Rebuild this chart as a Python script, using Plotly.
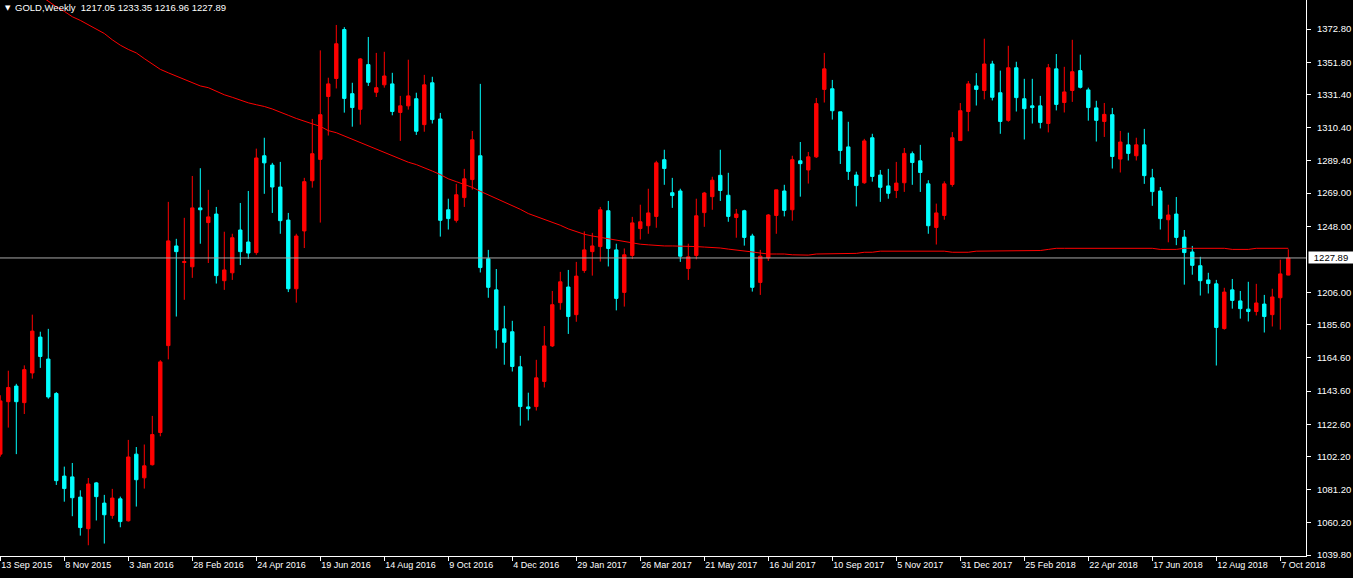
import pandas as pd
import plotly.graph_objects as go

# ---- data ----
first_week = "2015-09-13"
n_bars = 162

opens = [1103.7, 1136.9, 1146.8, 1136.3, 1155.1, 1177.8, 1163.9, 1142.1, 1089.8, 1089.3,
         1076.5, 1056.5, 1085.5, 1072.7, 1064.9, 1075.4, 1061.5, 1103.7, 1088.7, 1097.0,
         1117.4, 1172.4, 1235.5, 1225.0, 1222.3, 1259.6, 1250.3, 1255.7, 1213.5, 1218.5,
         1245.6, 1238.0, 1231.3, 1292.6, 1286.7, 1272.8, 1251.9, 1208.4, 1245.0, 1276.8,
         1290.3, 1330.1, 1341.5, 1372.5, 1331.9, 1322.0, 1350.3, 1332.8, 1337.5, 1338.1,
         1320.0, 1324.2, 1328.7, 1312.3, 1338.8, 1315.9, 1258.4, 1251.7, 1266.1, 1277.5,
         1292.6, 1227.4, 1207.7, 1183.0, 1181.2, 1159.0, 1133.6, 1133.8, 1149.7, 1172.2,
         1199.6, 1209.5, 1192.0, 1220.0, 1231.9, 1235.1, 1257.8, 1233.0, 1206.1, 1229.5,
         1246.5, 1248.3, 1254.2, 1290.1, 1269.2, 1270.3, 1221.2, 1229.5, 1256.6, 1266.7,
         1280.2, 1267.6, 1253.5, 1257.8, 1241.8, 1212.4, 1227.9, 1254.8, 1270.3, 1258.4,
         1289.4, 1283.6, 1291.9, 1334.6, 1335.0, 1320.4, 1298.2, 1280.4, 1275.5, 1304.0,
         1280.4, 1273.5, 1270.6, 1275.5, 1293.9, 1289.4, 1274.8, 1247.2, 1254.8, 1274.4,
         1302.2, 1320.6, 1336.8, 1333.9, 1350.7, 1332.5, 1315.0, 1348.3, 1328.7, 1324.2,
         1324.2, 1313.0, 1347.6, 1326.3, 1333.9, 1346.5, 1334.3, 1322.9, 1314.3, 1318.6,
         1290.5, 1299.5, 1292.6, 1299.5, 1278.6, 1270.3, 1252.1, 1255.7, 1241.1, 1231.7,
         1223.0, 1214.0, 1211.5, 1183.2, 1207.7, 1200.7, 1195.5, 1194.0, 1198.7, 1192.0,
         1202.7, 1217.05]

highs = [1141.0, 1156.5, 1148.2, 1159.9, 1192.0, 1181.2, 1183.0, 1143.0, 1095.8, 1098.1,
         1080.8, 1088.6, 1086.1, 1077.9, 1081.7, 1076.8, 1112.7, 1108.2, 1109.8, 1127.9,
         1163.2, 1263.4, 1240.0, 1253.3, 1279.8, 1284.7, 1271.0, 1260.2, 1244.5, 1243.2,
         1262.7, 1270.3, 1297.1, 1304.0, 1288.1, 1288.7, 1256.4, 1243.2, 1278.6, 1315.9,
         1359.3, 1342.0, 1375.4, 1374.0, 1338.8, 1354.5, 1367.8, 1357.7, 1358.4, 1345.1,
         1330.5, 1353.4, 1332.5, 1343.8, 1342.6, 1319.7, 1265.4, 1274.8, 1284.3, 1308.3,
         1338.1, 1233.0, 1220.9, 1197.6, 1188.1, 1165.9, 1142.6, 1163.4, 1184.8, 1207.0,
         1219.1, 1220.3, 1225.4, 1244.7, 1243.8, 1260.2, 1264.0, 1236.9, 1233.9, 1253.9,
         1261.6, 1271.7, 1289.4, 1296.4, 1278.6, 1271.7, 1236.9, 1265.4, 1269.7, 1279.3,
         1296.4, 1281.8, 1258.9, 1258.4, 1243.2, 1233.0, 1255.7, 1271.0, 1274.2, 1292.6,
         1301.3, 1295.0, 1329.2, 1357.7, 1340.6, 1320.4, 1314.1, 1282.5, 1303.3, 1306.5,
         1283.6, 1284.3, 1288.7, 1297.5, 1295.3, 1299.5, 1277.1, 1262.3, 1276.4, 1307.6,
         1326.0, 1339.9, 1344.9, 1366.7, 1352.7, 1346.5, 1362.2, 1352.1, 1341.3, 1341.3,
         1330.5, 1350.7, 1357.0, 1348.9, 1366.0, 1356.6, 1335.7, 1327.4, 1326.0, 1322.9,
         1308.3, 1307.2, 1304.0, 1309.6, 1284.3, 1272.8, 1261.6, 1266.5, 1245.6, 1235.5,
         1228.6, 1218.5, 1214.0, 1209.0, 1214.6, 1207.0, 1212.8, 1211.5, 1204.5, 1208.4,
         1226.8, 1233.35]

lows = [1102.1, 1120.5, 1103.7, 1129.1, 1151.5, 1158.3, 1138.8, 1084.2, 1073.6, 1064.4,
        1052.1, 1046.0, 1061.7, 1047.1, 1062.8, 1057.4, 1061.0, 1070.5, 1081.9, 1096.5,
        1115.0, 1163.7, 1190.8, 1201.4, 1215.3, 1236.9, 1224.7, 1211.7, 1207.7, 1214.0,
        1223.4, 1227.4, 1229.9, 1268.5, 1256.4, 1243.2, 1206.3, 1199.6, 1234.2, 1272.4,
        1250.3, 1305.4, 1335.2, 1319.9, 1311.0, 1312.3, 1336.8, 1329.8, 1335.7, 1318.2,
        1302.0, 1321.8, 1305.8, 1307.8, 1313.0, 1241.4, 1245.9, 1250.3, 1260.2, 1271.2,
        1218.7, 1202.7, 1170.6, 1160.3, 1156.0, 1121.7, 1125.0, 1131.3, 1145.9, 1171.5,
        1195.1, 1179.8, 1187.5, 1218.5, 1216.7, 1225.6, 1222.5, 1194.7, 1197.1, 1227.2,
        1239.6, 1243.2, 1247.0, 1274.2, 1259.6, 1225.4, 1214.0, 1227.0, 1247.6, 1258.4,
        1264.0, 1250.8, 1240.7, 1235.7, 1206.6, 1204.5, 1226.0, 1243.2, 1254.2, 1251.5,
        1266.7, 1275.0, 1291.2, 1326.3, 1315.5, 1287.4, 1277.3, 1260.5, 1274.8, 1276.2,
        1263.4, 1265.4, 1265.8, 1269.7, 1274.2, 1269.7, 1243.2, 1236.4, 1252.1, 1273.0,
        1302.2, 1308.1, 1324.4, 1328.3, 1327.6, 1306.5, 1314.1, 1320.6, 1302.9, 1313.0,
        1309.9, 1307.4, 1321.3, 1320.0, 1326.7, 1335.2, 1314.8, 1301.6, 1304.5, 1284.5,
        1282.0, 1289.6, 1289.6, 1274.8, 1260.9, 1245.9, 1237.8, 1236.0, 1211.0, 1217.3,
        1204.1, 1205.4, 1159.8, 1182.5, 1195.8, 1189.5, 1187.7, 1191.5, 1180.7, 1184.5,
        1182.5, 1216.96]

closes = [1137.4, 1145.9, 1136.9, 1157.2, 1181.6, 1165.5, 1139.9, 1086.9, 1081.9, 1076.1,
          1057.2, 1084.8, 1076.8, 1065.3, 1075.9, 1061.0, 1101.9, 1087.5, 1096.3, 1116.1,
          1162.1, 1238.7, 1231.9, 1225.6, 1259.6, 1258.4, 1253.9, 1216.7, 1220.3, 1240.7,
          1231.9, 1231.0, 1291.2, 1288.1, 1272.8, 1251.5, 1208.4, 1241.8, 1276.2, 1293.9,
          1318.6, 1338.1, 1363.5, 1328.9, 1323.1, 1353.9, 1339.1, 1335.7, 1343.1, 1320.6,
          1324.2, 1330.5, 1308.1, 1337.5, 1315.5, 1251.7, 1252.8, 1267.9, 1278.0, 1302.7,
          1221.8, 1209.3, 1182.3, 1174.5, 1159.2, 1133.8, 1132.5, 1152.0, 1172.2, 1198.3,
          1212.8, 1190.8, 1216.4, 1233.0, 1235.5, 1258.4, 1233.9, 1202.3, 1229.9, 1250.1,
          1250.8, 1256.4, 1288.1, 1284.5, 1267.4, 1229.0, 1228.6, 1254.6, 1269.0, 1277.1,
          1270.6, 1254.2, 1255.7, 1240.9, 1209.3, 1229.0, 1255.1, 1271.0, 1258.0, 1290.1,
          1287.6, 1291.9, 1325.6, 1347.6, 1321.1, 1295.9, 1282.7, 1273.7, 1302.0, 1279.5,
          1272.6, 1268.8, 1275.3, 1294.1, 1288.3, 1282.0, 1248.3, 1256.4, 1274.8, 1304.0,
          1321.1, 1338.1, 1334.6, 1350.7, 1329.6, 1314.3, 1348.3, 1329.4, 1322.4, 1323.1,
          1313.7, 1348.3, 1325.1, 1333.0, 1345.8, 1335.9, 1323.1, 1315.0, 1318.8, 1292.1,
          1301.3, 1294.1, 1299.5, 1280.0, 1269.9, 1252.8, 1255.1, 1240.9, 1231.3, 1223.2,
          1213.5, 1211.7, 1183.9, 1206.3, 1201.0, 1195.8, 1194.0, 1199.4, 1190.8, 1203.2,
          1217.8, 1227.89]

# red moving-average line (None where it lies above the visible area)
ma_values = [None, None, None, None, None, 1394.0, 1390.5, 1386.9, 1384.0, 1380.6,
             1378.3, 1375.4, 1372.7, 1370.0, 1366.0, 1362.6, 1359.9, 1357.7, 1354.1, 1350.7,
             1347.3, 1345.1, 1343.1, 1340.8, 1338.6, 1336.8, 1335.7, 1333.4, 1331.2, 1329.6,
             1327.8, 1326.1, 1324.9, 1323.8, 1322.2, 1320.0, 1318.2, 1316.2, 1314.3, 1312.8,
             1311.2, 1308.5, 1307.2, 1305.1, 1302.7, 1300.9, 1298.6, 1296.4, 1294.6, 1292.6,
             1290.5, 1288.5, 1287.0, 1284.7, 1282.9, 1280.7, 1278.0, 1276.2, 1274.6, 1272.6,
             1270.1, 1267.9, 1265.6, 1263.4, 1261.1, 1258.7, 1256.0, 1254.2, 1252.1, 1250.3,
             1248.6, 1246.3, 1244.7, 1242.9, 1241.8, 1240.9, 1240.0, 1238.9, 1238.0, 1237.3,
             1236.6, 1236.2, 1235.7, 1235.5, 1235.5, 1235.5, 1235.3, 1235.1, 1234.8, 1234.6,
             1234.2, 1233.5, 1233.0, 1232.4, 1231.7, 1231.0, 1230.4, 1230.4, 1230.4, 1229.9,
             1229.7, 1229.7, 1230.4, 1230.4, 1230.4, 1230.4, 1230.8, 1230.8, 1231.5, 1231.5,
             1232.2, 1232.2, 1232.2, 1232.2, 1232.6, 1232.6, 1232.2, 1232.2, 1232.2, 1231.5,
             1231.5, 1231.5, 1232.2, 1232.2, 1232.2, 1232.2, 1232.2, 1232.6, 1232.6, 1232.6,
             1232.6, 1233.3, 1234.0, 1234.0, 1234.0, 1234.0, 1234.0, 1234.0, 1234.0, 1234.0,
             1234.0, 1234.0, 1234.0, 1234.0, 1234.0, 1233.3, 1233.3, 1233.3, 1234.0, 1234.0,
             1234.0, 1234.0, 1234.0, 1234.0, 1233.3, 1233.3, 1233.3, 1234.0, 1234.0, 1234.0,
             1234.0, 1234.0]

date_labels = ["13 Sep 2015", "8 Nov 2015", "3 Jan 2016", "28 Feb 2016", "24 Apr 2016",
               "19 Jun 2016", "14 Aug 2016", "9 Oct 2016", "4 Dec 2016", "29 Jan 2017",
               "26 Mar 2017", "21 May 2017", "16 Jul 2017", "10 Sep 2017", "5 Nov 2017",
               "31 Dec 2017", "25 Feb 2018", "22 Apr 2018", "17 Jun 2018", "12 Aug 2018",
               "7 Oct 2018"]

price_ticks = [1372.80, 1351.80, 1331.40, 1310.40, 1289.40, 1269.00, 1248.00, 1206.00,
               1185.60, 1164.60, 1143.60, 1122.60, 1102.20, 1081.20, 1060.20, 1039.80]

symbol = "GOLD,Weekly"
last_price = 1227.89

# ---- figure ----
weeks = pd.date_range(first_week, periods=n_bars, freq="7D")
label_weeks = weeks[::8]

W, H = 1353, 578
plot_w, plot_h = 1306, 556
px_per_day = 8 / 7.0
x0 = weeks[0] - pd.Timedelta(days=0.3 / px_per_day)
x1 = x0 + pd.Timedelta(days=plot_w / px_per_day)

fig = go.Figure()
fig.add_trace(go.Candlestick(
    x=weeks, open=opens, high=highs, low=lows, close=closes,
    increasing=dict(line=dict(color="#FF0000", width=1), fillcolor="#FF0000"),
    decreasing=dict(line=dict(color="#00FFFF", width=1), fillcolor="#00FFFF"),
    whiskerwidth=0, showlegend=False, hoverinfo="skip",
))
fig.add_trace(go.Scatter(
    x=weeks, y=ma_values, mode="lines",
    line=dict(color="#FF0000", width=1), showlegend=False, hoverinfo="skip",
    connectgaps=False,
))

# bid line
fig.add_shape(type="line", xref="paper", yref="y", x0=0, x1=1.0,
              y0=last_price, y1=last_price, line=dict(color="#A8A8A8", width=1))

fig.add_annotation(xref="paper", yref="y", x=1.0, y=last_price, xanchor="left",
                   yanchor="middle", xshift=2, text=f"{last_price:.2f}", showarrow=False,
                   bgcolor="#FFFFFF", font=dict(color="#000000", size=9.5,
                                                family="Liberation Sans"),
                   borderpad=0, width=44, align="center")

# title text
fig.add_annotation(xref="paper", yref="paper", x=0, y=1, xanchor="left", yanchor="top",
                   xshift=3, yshift=-2, text="▼", showarrow=False,
                   font=dict(color="#FFFFFF", size=7, family="DejaVu Sans"))
fig.add_annotation(xref="paper", yref="paper", x=0, y=1, xanchor="left", yanchor="top",
                   xshift=13, yshift=0,
                   text=f"{symbol}  {opens[-1]:.2f} {highs[-1]:.2f} {lows[-1]:.2f} {closes[-1]:.2f}",
                   showarrow=False,
                   font=dict(color="#FFFFFF", size=9.5, family="Liberation Sans"))

ylo = 1391.2 - plot_h / 1.5796
fig.update_layout(
    width=W, height=H,
    margin=dict(l=0, r=W - plot_w, t=0, b=H - plot_h),
    paper_bgcolor="#000000", plot_bgcolor="#000000",
    boxgap=0.4,
    xaxis=dict(
        type="date", range=[x0, x1], rangeslider=dict(visible=False),
        showgrid=False, zeroline=False, showline=True, linecolor="#FFFFFF", linewidth=1,
        tickmode="array", tickvals=list(label_weeks), ticktext=date_labels,
        ticks="outside", ticklen=4, tickcolor="#FFFFFF", tickwidth=1,
        ticklabelposition="outside right",
        tickfont=dict(color="#FFFFFF", size=9, family="Liberation Sans"),
        fixedrange=True,
    ),
    yaxis=dict(
        side="right", range=[ylo, 1391.2],
        showgrid=False, zeroline=False, showline=True, linecolor="#FFFFFF", linewidth=1,
        tickmode="array", tickvals=price_ticks, ticktext=[f"{v:.2f}" for v in price_ticks],
        ticks="outside", ticklen=4, tickcolor="#FFFFFF", tickwidth=1,
        ticklabelstandoff=4,
        tickfont=dict(color="#FFFFFF", size=9.5, family="Liberation Sans"),
        fixedrange=True,
    ),
)

fig.write_html("out.html", config={"displayModeBar": False},
               post_script="document.body.style.margin='0';document.body.style.background='#000';")
